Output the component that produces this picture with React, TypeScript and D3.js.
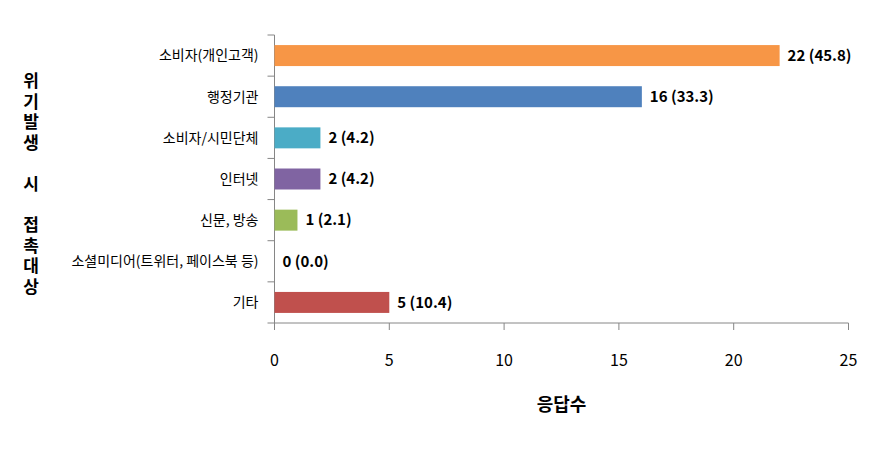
import React from "react";
import * as d3 from "d3";

const categories = ["소비자(개인고객)", "행정기관", "소비자/시민단체", "인터넷", "신문, 방송", "소셜미디어(트위터, 페이스북 등)", "기타"];
const counts = [22, 16, 2, 2, 1, 0, 5];
const percents = ["45.8", "33.3", "4.2", "4.2", "2.1", "0.0", "10.4"];
const colors = ["#F79646", "#4F81BD", "#4BACC6", "#8064A2", "#9BBB59", "#4BACC6", "#C0504D"];
const xTicks = [0, 5, 10, 15, 20, 25];
const yTitle = "위기발생\u3000시\u3000접촉대상";
const xTitle = "응답수";

export default function App() {
  const W = 889, H = 469;
  const left = 274.5, right = 848.5, top = 35, bottom = 323;
  const x = d3.scaleLinear().domain([0, 25]).range([left, right]);
  const y = d3.scaleBand<string>().domain(categories).range([top, bottom]).paddingInner(0.49).paddingOuter(0.245);
  const band = d3.scaleBand<string>().domain(categories).range([top, bottom]);
  const font = "'Noto Sans CJK KR', 'Noto Sans', sans-serif";
  const axisColor = "#868686";
  return (
    <svg width={W} height={H} style={{ position: "absolute", left: 0, top: 0, background: "#fff" }} fontFamily={font}>
      {/* y axis */}
      <line x1={left} x2={left} y1={top} y2={bottom} stroke={axisColor} strokeWidth={1} />
      {categories.map((c, i) => (
        <line key={"yt" + i} x1={left - 7} x2={left} y1={band(c)!} y2={band(c)!} stroke={axisColor} />
      ))}
      <line x1={left - 7} x2={left} y1={bottom} y2={bottom} stroke={axisColor} />
      {/* x axis */}
      <line x1={left} x2={right} y1={bottom} y2={bottom} stroke={axisColor} strokeWidth={1} />
      {xTicks.map((t) => (
        <g key={"xt" + t}>
          <line x1={x(t)} x2={x(t)} y1={bottom} y2={bottom + 7} stroke={axisColor} />
          <text x={x(t)} y={bottom + 43} textAnchor="middle" fontSize={16} fill="#000">{t}</text>
        </g>
      ))}
      {/* bars */}
      {categories.map((c, i) => (
        <g key={"b" + i}>
          {counts[i] > 0 && (
            <rect x={x(0)} y={y(c)!} width={x(counts[i]) - x(0)} height={y.bandwidth()} fill={colors[i]} />
          )}
          <text x={x(counts[i]) + 8} y={y(c)! + y.bandwidth() / 2} dy="0.35em" fontSize={15} fontWeight="bold" fill="#000">
            {`${counts[i]} (${percents[i]})`}
          </text>
          <text x={left - 16} y={band(c)! + band.bandwidth() / 2} dy="0.35em" textAnchor="end" fontSize={14} fill="#000">
            {c}
          </text>
        </g>
      ))}
      {/* y title (vertical) */}
      <text x={31} y={72} style={{ writingMode: "vertical-rl" }} fontSize={17} fontWeight="bold" letterSpacing={3.6} fill="#000">
        {yTitle}
      </text>
      {/* x title */}
      <text x={(left + right) / 2} y={405} dy="0.35em" textAnchor="middle" fontSize={18} fontWeight="bold" fill="#000">{xTitle}</text>
    </svg>
  );
}
